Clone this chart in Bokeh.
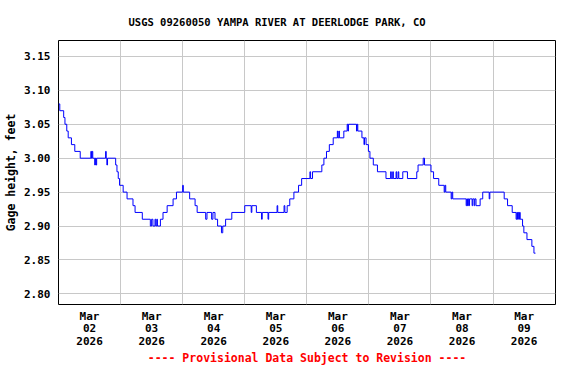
import pandas as pd
from bokeh.plotting import figure
from bokeh.models import Range1d, FixedTicker, DatetimeTickFormatter, NumeralTickFormatter
from bokeh.embed import file_html
from bokeh.resources import INLINE

# ---------------- data ----------------
title_text = "USGS 09260050 YAMPA RIVER AT DEERLODGE PARK, CO"
y_label = "Gage height, feet"
footer_text = "---- Provisional Data Subject to Revision ----"

series_start = "2026-03-02 00:00"
step_hours = [
    0.0, 0.5, 2.0, 2.5, 3.2, 3.75, 5.0, 6.3, 8.4, 12.5, 12.75, 13.0, 13.25, 14.0, 14.25, 14.5, 14.75,
    18.2, 18.45, 18.7, 18.95, 22.1, 22.6, 23.1, 23.6, 25.0, 26.5, 28.8, 29.6, 32.4, 35.5, 36.0,
    36.5, 37.3, 37.6, 38.0, 38.25, 39.4, 40.4, 42.0, 44.3, 45.6, 48.0, 48.25, 50.7, 52.8, 53.6,
    56.9, 57.4, 59.2, 59.7, 60.5, 61.5, 63.0, 63.5, 64.6, 67.0, 72.0, 74.5, 74.75, 76.5, 78.5,
    78.75, 81.0, 81.25, 84.5, 84.75, 87.2, 87.5, 88.4, 89.4, 91.0, 92.8, 94.0, 97.2, 97.45, 98.2,
    101.8, 102.6, 103.6, 104.7, 106.2, 107.8, 108.0, 108.4, 108.6, 110.3, 111.6, 111.9, 112.1,
    115.2, 115.45, 115.7, 117.3, 118.1, 118.3, 118.9, 119.8, 120.4, 121.7, 123.3, 126.6, 128.4,
    128.65, 129.2, 129.45, 130.5, 130.75, 131.3, 131.55, 133.1, 134.9, 138.5, 139.0, 141.0, 141.5,
    144.0, 145.0, 147.0, 149.1, 149.4, 149.7, 151.8, 152.1, 152.4, 157.6, 157.85, 158.1, 158.35,
    158.6, 158.9, 159.9, 160.15, 160.7, 160.95, 161.4, 163.0, 164.0, 166.5, 166.75, 172.3, 173.6,
    175.4, 176.9, 177.2, 177.45, 177.7, 177.95, 178.2, 178.5, 179.4, 179.9, 181.1, 183.0, 183.8,
    184.4,
]
gage_height_ft = [
    3.08, 3.07, 3.06, 3.05, 3.04, 3.03, 3.02, 3.01, 3.00, 3.01, 3.00, 3.01, 3.00, 2.99, 3.00, 2.99, 3.00,
    3.01, 3.00, 2.99, 3.00, 2.99, 2.98, 2.97, 2.96, 2.95, 2.94, 2.93, 2.92, 2.91, 2.90, 2.91,
    2.90, 2.91, 2.90, 2.91, 2.90, 2.91, 2.92, 2.93, 2.94, 2.95, 2.96, 2.95, 2.94, 2.93, 2.92,
    2.91, 2.92, 2.91, 2.92, 2.91, 2.90, 2.89, 2.90, 2.91, 2.92, 2.93, 2.92, 2.93, 2.92, 2.91,
    2.92, 2.91, 2.92, 2.93, 2.92, 2.93, 2.92, 2.93, 2.94, 2.95, 2.96, 2.97, 2.98, 2.97, 2.98,
    2.99, 3.00, 3.01, 3.02, 3.03, 3.04, 3.03, 3.04, 3.03, 3.04, 3.05, 3.04, 3.05,
    3.04, 3.05, 3.04, 3.03, 3.02, 3.03, 3.02, 3.01, 3.00, 2.99, 2.98, 2.97, 2.98,
    2.97, 2.98, 2.97, 2.98, 2.97, 2.98, 2.97, 2.98, 2.97, 2.98, 2.99, 3.00, 2.99,
    2.98, 2.97, 2.96, 2.95, 2.96, 2.95, 2.94, 2.95, 2.94, 2.93, 2.94, 2.93, 2.94,
    2.93, 2.94, 2.93, 2.94, 2.93, 2.94, 2.93, 2.94, 2.95, 2.94, 2.95, 2.94, 2.93,
    2.92, 2.91, 2.92, 2.91, 2.92, 2.91, 2.92, 2.91, 2.90, 2.89, 2.88, 2.87, 2.86,
    2.86,
]

y_ticks = [2.80, 2.85, 2.90, 2.95, 3.00, 3.05, 3.10, 3.15]
day_starts = ["2026-03-02", "2026-03-03", "2026-03-04", "2026-03-05", "2026-03-06",
              "2026-03-07", "2026-03-08", "2026-03-09", "2026-03-10"]
x_start, x_end = "2026-03-02 00:00", "2026-03-10 00:08"
y_start, y_end = 2.7843, 3.1735

# ---------------- build ----------------
t0 = pd.Timestamp(series_start)
times = t0 + pd.to_timedelta(step_hours, unit="h")

days = [pd.Timestamp(d) for d in day_starts]
to_ms = lambda ts: ts.value / 1e6
label_ticks = [to_ms(d + pd.Timedelta(hours=12)) for d in days[:-1]]
grid_ticks = [to_ms(d) for d in days[1:-1]]

MONO = "DejaVu Sans Mono"

p = figure(width=560, height=368, x_axis_type="datetime", output_backend="svg",
           toolbar_location=None,
           x_range=Range1d(pd.Timestamp(x_start), pd.Timestamp(x_end)),
           y_range=Range1d(y_start, y_end),
           min_border_left=58, min_border_right=5, min_border_top=39, min_border_bottom=64)

p.step(times, gage_height_ft, mode="after", line_color="#0000ff", line_width=1)

p.background_fill_color = "white"
p.border_fill_color = "white"
p.outline_line_color = "black"
p.outline_line_width = 1
p.outline_line_alpha = 1

p.xaxis.ticker = FixedTicker(ticks=label_ticks)
p.xgrid.ticker = FixedTicker(ticks=grid_ticks)
p.xaxis.formatter = DatetimeTickFormatter(days="%b\n%d\n%Y")
p.yaxis.ticker = FixedTicker(ticks=y_ticks)
p.yaxis.formatter = NumeralTickFormatter(format="0.00")

for ax in (p.xaxis, p.yaxis):
    ax.axis_line_color = None
    ax.major_tick_line_color = None
    ax.minor_tick_line_color = None
    ax.major_tick_out = 0
    ax.major_tick_in = 0
    ax.major_label_text_font = MONO
    ax.major_label_text_font_style = "bold"
    ax.major_label_text_font_size = "11px"
    ax.major_label_text_color = "black"
    ax.major_label_standoff = 8

p.xaxis.major_label_standoff = 5
p.xaxis.major_label_text_line_height = 0.98

p.yaxis.axis_label = y_label
p.yaxis.axis_label_text_font = MONO
p.yaxis.axis_label_text_font_style = "bold"
p.yaxis.axis_label_text_font_size = "11.5px"
p.yaxis.axis_label_text_color = "black"
p.yaxis.axis_label_standoff = 3

p.xaxis.axis_label = footer_text
p.xaxis.axis_label_text_font = MONO
p.xaxis.axis_label_text_font_style = "bold"
p.xaxis.axis_label_text_font_size = "11.5px"
p.xaxis.axis_label_text_color = "red"
p.xaxis.axis_label_standoff = 0

p.grid.grid_line_color = "#c8c8c8"
p.grid.grid_line_width = 1

p.title.text = title_text
p.title.align = "left"
p.title.offset = 70
p.title.text_font = MONO
p.title.text_font_style = "bold"
p.title.text_font_size = "10.5px"
p.title.text_color = "black"
p.title.standoff = 26

open("out.html", "w").write(file_html(p, INLINE))
